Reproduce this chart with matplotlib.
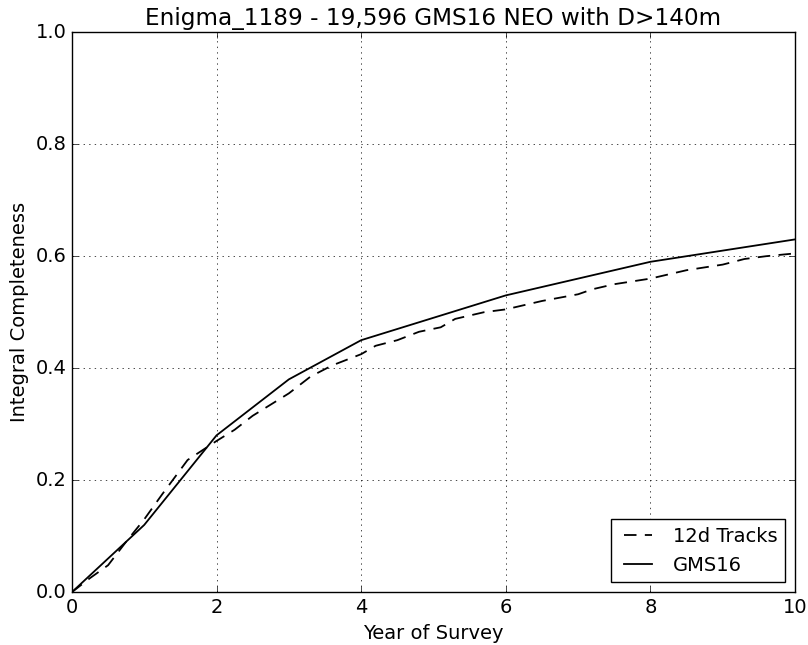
import matplotlib
matplotlib.use("Agg")
import matplotlib.pyplot as plt

# year of survey vs integral completeness
years_gms = [0, 1, 2, 3, 4, 6, 8, 10]
comp_gms = [0.0, 0.12, 0.28, 0.38, 0.45, 0.53, 0.59, 0.63]

years_trk = [0, 0.25, 0.5, 0.75, 1.0, 1.25, 1.6, 2.0, 2.25, 2.5, 3.0, 3.3, 3.6,
             4.0, 4.2, 4.5, 4.8, 5.1, 5.3, 5.7, 6.0, 6.5, 7.0, 7.2, 7.5,
             8.0, 8.5, 9.0, 9.3, 9.6, 10.0]
comp_trk = [0.0, 0.025, 0.048, 0.09, 0.13, 0.175, 0.236, 0.27, 0.29, 0.315,
            0.355, 0.385, 0.405, 0.425, 0.44, 0.45, 0.465, 0.473, 0.488,
            0.5, 0.505, 0.52, 0.532, 0.541, 0.55, 0.56, 0.575, 0.585,
            0.595, 0.6, 0.605]

plt.style.use('classic')
fig = plt.figure(figsize=(8.08, 6.45), dpi=100)
ax = fig.add_axes([0.089, 0.082, 0.895, 0.868])

ax.plot(years_trk, comp_trk, 'k--', lw=1.3, dashes=(9, 6), label='12d Tracks')
ax.plot(years_gms, comp_gms, 'k-', lw=1.3, label='GMS16')

ax.set_xlim(0, 10)
ax.set_ylim(0, 1.0)
ax.set_xticks([0, 2, 4, 6, 8, 10])
ax.set_yticks([0.0, 0.2, 0.4, 0.6, 0.8, 1.0])
ax.tick_params(labelsize=14)
ax.grid(True, color='k', linestyle=':')
ax.set_xlabel('Year of Survey', fontsize=14)
ax.set_ylabel('Integral Completeness', fontsize=14)
ax.set_title('Enigma_1189 - 19,596 GMS16 NEO with D>140m', fontsize=16.7)
ax.legend(loc='lower right', fontsize=14)

fig.savefig('out.png', dpi=100)
